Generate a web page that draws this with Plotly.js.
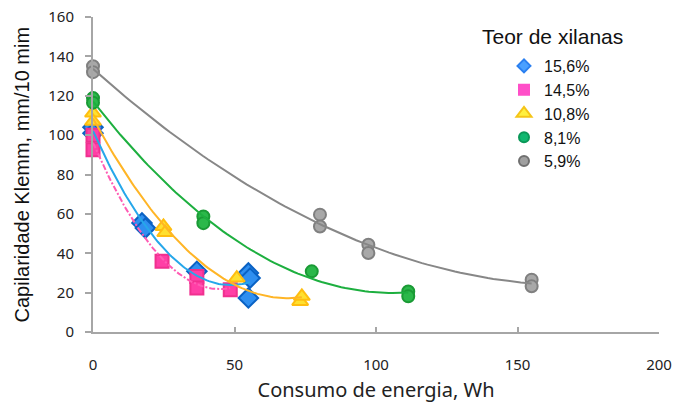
<!DOCTYPE html>
<html>
<head>
<meta charset="utf-8">
<script src="https://cdn.plot.ly/plotly-3.0.1.min.js"></script>
<style>html,body{margin:0;padding:0;background:#fff}#chart{width:675px;height:403px}</style>
</head>
<body>
<div id="chart"></div>
<script>
// Data
var seriesNames = ["15,6%", "14,5%", "10,8%", "8,1%", "5,9%"];
var blueX = [0, 0, 17.3, 18.5, 36.7, 54.9, 55.5, 54.9];
var blueY = [104, 101, 55.4, 52.8, 30.8, 30, 27.4, 17.3];
var pinkX = [0, 0, 24.4, 36.7, 36.7, 48.5];
var pinkY = [100, 92.6, 35.9, 28.2, 22.3, 21.5];
var yellowX = [0, 0, 24.9, 25.5, 50.8, 73.2, 73.8];
var yellowY = [111.2, 107, 53.6, 50.5, 27.4, 15.5, 18.1];
var greenX = [0, 0, 39, 39, 77.3, 111.4, 111.4];
var greenY = [118.8, 116.5, 58.7, 55.3, 30.8, 20.6, 18.1];
var grayX = [0, 0, 80.2, 80.2, 97.3, 97.3, 155, 155];
var grayY = [135, 132, 59.6, 53.6, 44.3, 40.1, 26.6, 23.2];
var xTicks = [0, 50, 100, 150, 200];
var yTicks = [0, 20, 40, 60, 80, 100, 120, 140, 160];

// quadratic least-squares trend (like the spreadsheet's polynomial trendline)
function quadFit(xs, ys) {
  var n = xs.length, s = [0,0,0,0,0], t = [0,0,0];
  for (var i = 0; i < n; i++) {
    var x = xs[i], y = ys[i];
    s[0] += 1; s[1] += x; s[2] += x*x; s[3] += x*x*x; s[4] += x*x*x*x;
    t[0] += y; t[1] += x*y; t[2] += x*x*y;
  }
  var A = [[s[0], s[1], s[2], t[0]], [s[1], s[2], s[3], t[1]], [s[2], s[3], s[4], t[2]]];
  for (var c = 0; c < 3; c++) {
    var p = c;
    for (var r = c+1; r < 3; r++) if (Math.abs(A[r][c]) > Math.abs(A[p][c])) p = r;
    var tmp = A[c]; A[c] = A[p]; A[p] = tmp;
    for (var r2 = 0; r2 < 3; r2++) {
      if (r2 === c) continue;
      var f = A[r2][c] / A[c][c];
      for (var k = c; k < 4; k++) A[r2][k] -= f * A[c][k];
    }
  }
  var a0 = A[0][3]/A[0][0], a1 = A[1][3]/A[1][1], a2 = A[2][3]/A[2][2];
  var xmax = Math.max.apply(null, xs), fx = [], fy = [];
  for (var j = 0; j <= 80; j++) {
    var xv = xmax * j / 80;
    fx.push(xv); fy.push(a0 + a1*xv + a2*xv*xv);
  }
  return {x: fx, y: fy};
}

var sets = [
  {x: blueX, y: blueY, sym: "diamond", size: 15, lsize: 10, fill: "#2f8ff0", line: "#0a62c4", lfill: "#4aa0ff", lline: "#2a7ff0", fit: "#26a7ea", dash: "solid"},
  {x: pinkX, y: pinkY, sym: "square", size: 13, lsize: 10, fill: "#ff3fa6", line: "#f0308f", lfill: "#ff4fc8", lline: "#ff4fc8", fit: "#ff5cb4", dash: "6px,2px,2px,2px"},
  {x: yellowX, y: yellowY, sym: "triangle-up", size: 14, lsize: 13, fill: "#ffe030", line: "#ffbe10", lfill: "#fff040", lline: "#f5c518", fit: "#ffb526", dash: "solid"},
  {x: greenX, y: greenY, sym: "circle", size: 12, lsize: 10, fill: "#2bb84a", line: "#1a9a35", lfill: "#10b870", lline: "#0a9858", fit: "#1daf3f", dash: "solid"},
  {x: grayX, y: grayY, sym: "circle", size: 12, lsize: 10, fill: "#a8a8a8", line: "#808080", lfill: "#a0a0a0", lline: "#707070", fit: "#878787", dash: "solid"}
];

var traces = [];
sets.forEach(function (s, i) {
  traces.push({
    type: "scatter", mode: "markers", name: seriesNames[i], x: s.x, y: s.y, showlegend: false,
    marker: {symbol: s.sym, size: s.size, color: s.fill, line: {color: s.line, width: 2}},
    cliponaxis: false
  });
});
sets.forEach(function (s, i) {
  var f = quadFit(s.x, s.y);
  traces.push({
    type: "scatter", mode: "lines", x: f.x, y: f.y, showlegend: false, hoverinfo: "skip",
    line: {color: s.fit, width: 2, dash: s.dash}
  });
});
// legend entries (smaller symbols, as in the reference legend)
sets.forEach(function (s, i) {
  traces.push({
    type: "scatter", mode: "markers", name: seriesNames[i], x: [null], y: [null], showlegend: true,
    marker: {symbol: s.sym, size: s.lsize, color: s.lfill, line: {color: s.lline, width: 2}}
  });
});

var W = 675, H = 403, L = 93, R = 16, T = 17, B = 71;
var pw = W - L - R, ph = H - T - B;

var layout = {
  width: W, height: H,
  margin: {l: L, r: R, t: T, b: B, pad: 0},
  paper_bgcolor: "#ffffff", plot_bgcolor: "#ffffff",
  font: {family: "Liberation Sans, Arial, sans-serif", color: "#111"},
  showlegend: true,
  legend: {
    x: (504 - L) / pw, xanchor: "left",
    y: (H - B - 49) / ph, yanchor: "top",
    font: {family: "Liberation Sans, Arial, sans-serif", size: 16, color: "#111"},
    bgcolor: "rgba(0,0,0,0)", borderwidth: 0, itemsizing: "trace"
  },
  xaxis: {
    range: [0, 200], tickvals: xTicks, ticktext: xTicks.map(String),
    showgrid: false, zeroline: false, showline: true, linecolor: "#a6a6a6", linewidth: 2,
    ticks: "inside", ticklen: 5, tickwidth: 2, tickcolor: "#a6a6a6",
    tickfont: {family: "Noto Sans, sans-serif", size: 15, color: "#222"},
    ticklabelstandoff: 18,
    title: {text: "Consumo de energia, Wh", font: {family: "Noto Sans, sans-serif", size: 20, color: "#222"}, standoff: 11}
  },
  yaxis: {
    range: [0, 160], tickvals: yTicks, ticktext: yTicks.map(String),
    showgrid: false, zeroline: false, showline: true, linecolor: "#a6a6a6", linewidth: 2,
    ticks: "outside", ticklen: 6, tickwidth: 2, tickcolor: "#a6a6a6",
    tickfont: {family: "Noto Sans, sans-serif", size: 15, color: "#222"},
    ticklabelstandoff: 8
  },
  annotations: [{
    text: "Teor de xilanas", xref: "paper", yref: "paper",
    x: (480 - L) / pw, xanchor: "left", y: (H - B - 36) / ph, yanchor: "middle",
    showarrow: false, font: {family: "Liberation Sans, Arial, sans-serif", size: 21, color: "#111"}
  }, {
    text: "Capilaridade Klemm, mm/10 mim", xref: "paper", yref: "paper", textangle: -90,
    x: (21 - L) / pw, xanchor: "center", y: 0.5, yanchor: "middle",
    showarrow: false, font: {family: "Liberation Sans, Arial, sans-serif", size: 20, color: "#111"}
  }]
};

Plotly.newPlot("chart", traces, layout, {displayModeBar: false, staticPlot: true});
</script>
</body>
</html>
